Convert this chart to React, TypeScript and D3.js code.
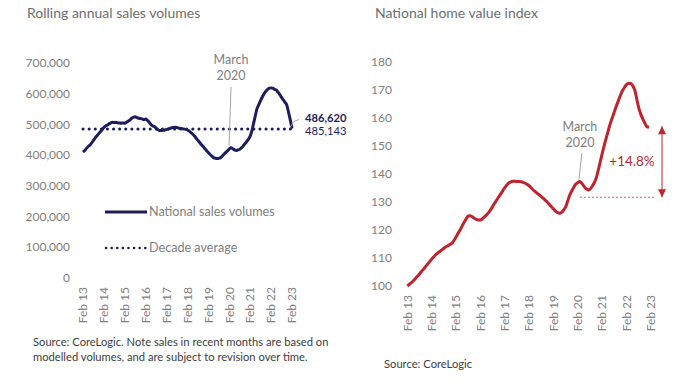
import React from "react";
import * as d3 from "d3";

const W = 675;
const H = 383;

// Rolling annual sales volumes (thousands), monthly Feb 13 .. Feb 23
const salesK: number[] = [
  410, 415, 422, 428, 433, 440, 448, 456, 463, 470, 476, 483,
  490, 495, 498, 502, 505, 507, 506, 507, 505, 505, 504, 505,
  504, 507, 511, 515, 520, 524, 525, 522, 520, 519, 518, 515,
  518, 513, 507, 500, 495, 493, 488, 483, 480, 480, 481, 482,
  484, 485, 487, 489, 490, 491, 490, 488, 487, 486, 485, 484,
  482, 478, 473, 468, 462, 455, 448, 441, 434, 428, 421, 414,
  408, 402, 397, 392, 390, 389, 390, 392, 397, 403, 409, 414,
  420, 424, 421, 417, 415, 417, 419, 424, 430, 437, 444, 452,
  462, 480, 505, 530, 553, 565, 578, 590, 600, 608, 614, 618,
  619, 618, 614, 612, 605, 597, 588, 580, 572, 563, 540, 515,
  487,
];
const salesLast = 486620;
const salesAverage = 485143;

// National home value index, monthly Feb 13 .. Jan 23
const hvi: number[] = [
  100.0, 100.6, 101.2, 101.9, 102.7, 103.5, 104.3, 105.2, 106.0, 106.9, 107.8, 108.7,
  109.6, 110.4, 111.2, 111.8, 112.3, 112.9, 113.5, 114.0, 114.4, 114.8, 115.3, 116.3,
  117.5, 118.8, 120.0, 121.4, 122.8, 124.0, 125.0, 125.1, 124.7, 124.2, 123.8, 123.6,
  123.6, 124.0, 124.7, 125.4, 126.2, 127.2, 128.4, 129.6, 130.7, 131.8, 132.9, 134.0,
  135.1, 136.1, 136.8, 137.2, 137.4, 137.4, 137.3, 137.3, 137.2, 137.0, 136.7, 136.3,
  135.8, 135.1, 134.3, 133.7, 133.1, 132.5, 131.9, 131.3, 130.6, 129.9, 129.1, 128.3,
  127.5, 126.7, 126.2, 126.0, 126.3, 127.2, 128.3, 130.4, 132.5, 134.0, 135.3, 136.4,
  137.0, 137.3, 136.6, 135.6, 134.8, 134.3, 134.6, 135.6, 136.8, 138.5, 141.3, 144.3,
  147.4, 150.3, 153.0, 155.6, 158.1, 160.2, 162.3, 164.4, 166.3, 168.2, 169.8, 171.0,
  172.0, 172.4, 172.3, 171.5, 170.0, 166.8, 163.5, 161.3, 159.6, 158.1, 156.9, 156.7,
];
const hviBase = 131.7;
const hviChangeLabel = "+14.8%";

const xTickLabels: string[] = [
  "Feb 13", "Feb 14", "Feb 15", "Feb 16", "Feb 17", "Feb 18",
  "Feb 19", "Feb 20", "Feb 21", "Feb 22", "Feb 23",
];
const salesTicks: number[] = [0, 100000, 200000, 300000, 400000, 500000, 600000, 700000];
const hviTicks: number[] = [100, 110, 120, 130, 140, 150, 160, 170, 180];
const marchIndex = 85; // March 2020

const FONT = "Lato, 'Open Sans', sans-serif";
const NAVY = "#1d1d5e";
const RED = "#c0232b";
const GRAY = "#808080";

export default function App() {
  // Left chart scales
  const xL = d3.scaleLinear().domain([0, 120]).range([83, 292]);
  const yL = d3.scaleLinear().domain([0, 700000]).range([278, 63]);
  // Right chart scales
  const xR = d3.scaleLinear().domain([0, 120]).range([407.3, 651]);
  const yR = d3.scaleLinear().domain([100, 180]).range([286, 62]);

  const lineL = d3
    .line<number>()
    .x((_, i) => xL(i))
    .y((d) => yL(d * 1000))
    .curve(d3.curveMonotoneX);
  const lineR = d3
    .line<number>()
    .x((_, i) => xR(i))
    .y((d) => yR(d))
    .curve(d3.curveMonotoneX);

  const fmt = d3.format(",");

  const mL = { x: xL(marchIndex), y: yL(salesK[marchIndex] * 1000) };
  const mR = { x: xR(marchIndex), y: yR(hvi[marchIndex]) };
  const endL = { x: xL(salesK.length - 1), y: yL(salesK[salesK.length - 1] * 1000) };
  const arrowX = 662;
  const arrowTop = yR(hvi[hvi.length - 1]) - 1;
  const arrowBot = yR(hviBase);

  return (
    <svg
      width={W}
      height={H}
      style={{ position: "absolute", left: 0, top: 0, background: "#fff" }}
      fontFamily={FONT}
    >
      <defs>
        <marker id="ah" viewBox="0 0 10 10" refX="10" refY="5" markerWidth="9" markerHeight="8" markerUnits="userSpaceOnUse" orient="auto-start-reverse">
          <path d="M0,0 L10,5 L0,10 z" fill={RED} />
        </marker>
      </defs>

      {/* ---------- Left chart ---------- */}
      <text x={27} y={18} fontSize={14} fill="#6e6e6e">Rolling annual sales volumes</text>

      {salesTicks.map((t) => (
        <text key={t} x={70} y={yL(t)} dy="0.35em" textAnchor="end" fontSize={12} fill={GRAY}>
          {fmt(t)}
        </text>
      ))}
      {xTickLabels.map((l, i) => (
        <text
          key={l}
          transform={`translate(${xL(i * 12)},287) rotate(-90)`}
          dy="0.35em"
          textAnchor="end"
          fontSize={12}
          fill={GRAY}
        >
          {l}
        </text>
      ))}

      {/* decade average */}
      <line
        x1={xL(0)}
        x2={xL(120)}
        y1={yL(salesAverage)}
        y2={yL(salesAverage)}
        stroke={NAVY}
        strokeWidth={3}
        strokeDasharray="0.1 6"
        strokeLinecap="round"
      />
      <path d={lineL(salesK) || ""} fill="none" stroke={NAVY} strokeWidth={3} strokeLinejoin="round" />

      {/* March 2020 annotation */}
      <line x1={mL.x} y1={87} x2={mL.x - 2} y2={mL.y - 2} stroke="#a6a6a6" strokeWidth={1} />
      <text x={mL.x} y={64} textAnchor="middle" fontSize={12.5} fill={GRAY}>March</text>
      <text x={mL.x} y={80} textAnchor="middle" fontSize={12.5} fill={GRAY}>2020</text>

      {/* end labels */}
      <polyline
        points={`${endL.x - 2},${endL.y - 1} ${endL.x + 2},${endL.y - 7} ${endL.x + 7},${endL.y - 9}`}
        fill="none"
        stroke="#a6a6a6"
        strokeWidth={1}
      />
      <text x={305} y={121.5} fontSize={11.2} fontWeight="bold" fill={NAVY}>{fmt(salesLast)}</text>
      <text x={305} y={134.5} fontSize={11.2} fill={NAVY}>{fmt(salesAverage)}</text>

      {/* legend */}
      <line x1={105} x2={147} y1={212} y2={212} stroke={NAVY} strokeWidth={3} />
      <text x={149} y={212} dy="0.35em" fontSize={12.6} fill={GRAY}>National sales volumes</text>
      <line x1={106} x2={146} y1={248} y2={248} stroke={NAVY} strokeWidth={2.5} strokeDasharray="0.1 5.5" strokeLinecap="round" />
      <text x={149} y={248} dy="0.35em" fontSize={12.6} fill={GRAY}>Decade average</text>

      <text x={33} y={346} fontSize={11.2} fill="#404040">
        Source: CoreLogic. Note sales in recent months are based on
      </text>
      <text x={33} y={361} fontSize={11.2} fill="#404040">
        modelled volumes, and are subject to revision over time.
      </text>

      {/* ---------- Right chart ---------- */}
      <text x={375} y={18} fontSize={14} fill="#6e6e6e">National home value index</text>

      {hviTicks.map((t) => (
        <text key={t} x={392} y={yR(t)} dy="0.35em" textAnchor="end" fontSize={12} fill={GRAY}>
          {t}
        </text>
      ))}
      {xTickLabels.map((l, i) => (
        <text
          key={l}
          transform={`translate(${xR(i * 12)},295) rotate(-90)`}
          dy="0.35em"
          textAnchor="end"
          fontSize={12}
          fill={GRAY}
        >
          {l}
        </text>
      ))}

      <path d={lineR(hvi) || ""} fill="none" stroke={RED} strokeWidth={3} strokeLinejoin="round" />

      {/* March 2020 annotation */}
      <line x1={mR.x + 2} y1={153} x2={mR.x - 1} y2={mR.y - 2} stroke="#a6a6a6" strokeWidth={1} />
      <text x={mR.x} y={131} textAnchor="middle" fontSize={12.5} fill={GRAY}>March</text>
      <text x={mR.x} y={147} textAnchor="middle" fontSize={12.5} fill={GRAY}>2020</text>

      {/* change arrow */}
      <line
        x1={xR(85)}
        x2={arrowX - 7}
        y1={arrowBot}
        y2={arrowBot}
        stroke={RED}
        strokeWidth={1}
        strokeDasharray="2 2"
        opacity={0.7}
      />
      <line
        x1={arrowX}
        x2={arrowX}
        y1={arrowTop}
        y2={arrowBot}
        stroke={RED}
        strokeWidth={1}
        markerStart="url(#ah)"
        markerEnd="url(#ah)"
      />
      <text x={632} y={(arrowTop + arrowBot) / 2} dy="0.35em" textAnchor="middle" fontSize={13.5} fill={RED}>
        {hviChangeLabel}
      </text>
      <text x={384} y={368} fontSize={11.2} fill="#404040">Source: CoreLogic</text>
    </svg>
  );
}
